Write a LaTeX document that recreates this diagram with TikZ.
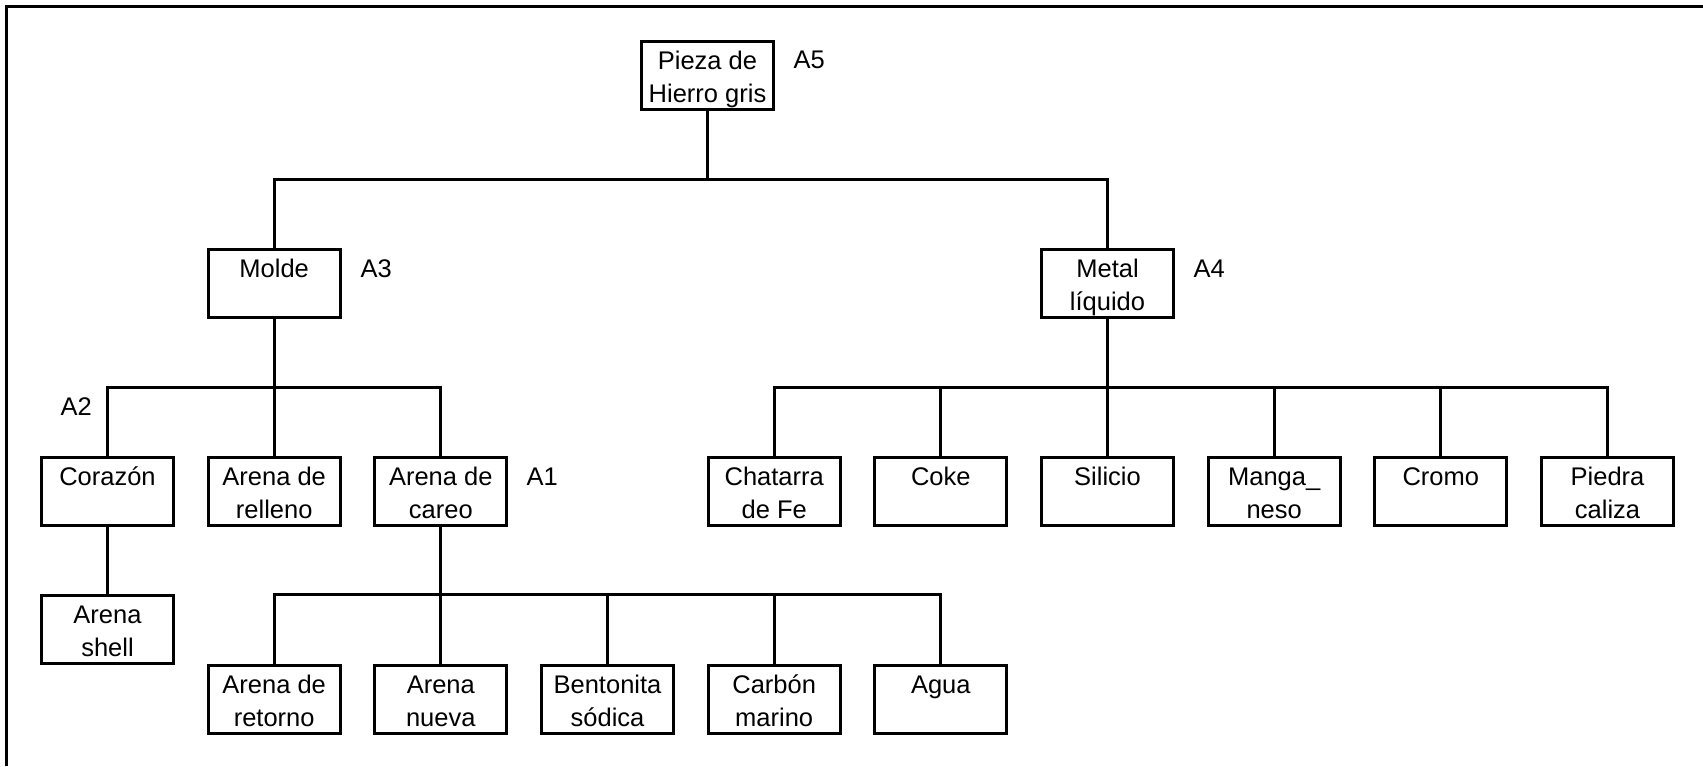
\documentclass[tikz,border=0pt]{standalone}
\usepackage{fontspec}
\setmainfont{Liberation Sans}
% fixed-size box content: text hangs from the top, centred
\newcommand\cellbox[1]{\parbox[c][68pt][t]{132pt}{\centering\rule{0pt}{28pt}#1\par}}
\begin{document}
\begin{tikzpicture}[x=1pt,y=-1pt,line width=3pt,
  every node/.style={font=\fontsize{25.5}{33.4}\selectfont},
  item/.style={draw,rectangle,inner sep=0pt,outer sep=0pt},
  tag/.style={anchor=base west,inner sep=0pt}]
\useasboundingbox (0,0) rectangle (1703,766);
% frame
\draw (6.7,766) -- (6.7,6) -- (1703,6);

% levels of the tree
\coordinate (bus1) at (0,179);
\coordinate (bus2) at (0,387.5);
\coordinate (bus3) at (0,594);

% top
\node[item] (pieza) at (707.5,75.3) {\cellbox{Pieza de\\Hierro gris}};
% second level
\node[item] (molde) at (274.2,283.3) {\cellbox{Molde}};
\node[item] (metal) at (1107.5,283.3) {\cellbox{Metal\\líquido}};
% third level
\node[item] (corazon)   at (107.5,491.5)  {\cellbox{Corazón}};
\node[item] (relleno)   at (274.2,491.5)  {\cellbox{Arena de\\relleno}};
\node[item] (careo)     at (440.8,491.5)  {\cellbox{Arena de\\careo}};
\node[item] (chatarra)  at (774.2,491.5)  {\cellbox{Chatarra\\de Fe}};
\node[item] (coke)      at (940.8,491.5)  {\cellbox{Coke}};
\node[item] (silicio)   at (1107.5,491.5) {\cellbox{Silicio}};
\node[item] (manganeso) at (1274.2,491.5) {\cellbox{Manga\_\\neso}};
\node[item] (cromo)     at (1440.8,491.5) {\cellbox{Cromo}};
\node[item] (piedra)    at (1607.5,491.5) {\cellbox{Piedra\\caliza}};
% fourth level
\node[item] (shell)     at (107.5,629.5)  {\cellbox{Arena\\shell}};
\node[item] (retorno)   at (274.2,699)    {\cellbox{Arena de\\retorno}};
\node[item] (nueva)     at (440.8,699)    {\cellbox{Arena\\nueva}};
\node[item] (bentonita) at (607.5,699)    {\cellbox{Bentonita\\sódica}};
\node[item] (carbon)    at (774.2,699)    {\cellbox{Carbón\\marino}};
\node[item] (agua)      at (940.8,699)    {\cellbox{Agua}};

% tags
\node[tag] (a5) at (792,68.5) {A5};
\node[tag] (a3) at (359,277) {A3};
\node[tag] (a4) at (1192,277) {A4};
\node[tag] (a2) at (59,415) {A2};
\node[tag] (a1) at (525,485) {A1};

% connectors
\draw (pieza.south) -- (pieza.south |- bus1);
\draw (molde.north) |- (metal.north |- bus1) -- (metal.north);

\draw (molde.south) -- (molde.south |- bus2);
\draw (corazon.north) |- (careo.north |- bus2) -- (careo.north);
\draw (relleno.north) -- (relleno.north |- bus2);

\draw (metal.south) -- (metal.south |- bus2);
\draw (chatarra.north) |- (piedra.north |- bus2) -- (piedra.north);
\foreach \n in {coke,silicio,manganeso,cromo}
  \draw (\n.north) -- (\n.north |- bus2);

\draw (corazon.south) -- (shell.north);

\draw (careo.south) -- (careo.south |- bus3);
\draw (retorno.north) |- (agua.north |- bus3) -- (agua.north);
\foreach \n in {nueva,bentonita,carbon}
  \draw (\n.north) -- (\n.north |- bus3);
\end{tikzpicture}
\end{document}
